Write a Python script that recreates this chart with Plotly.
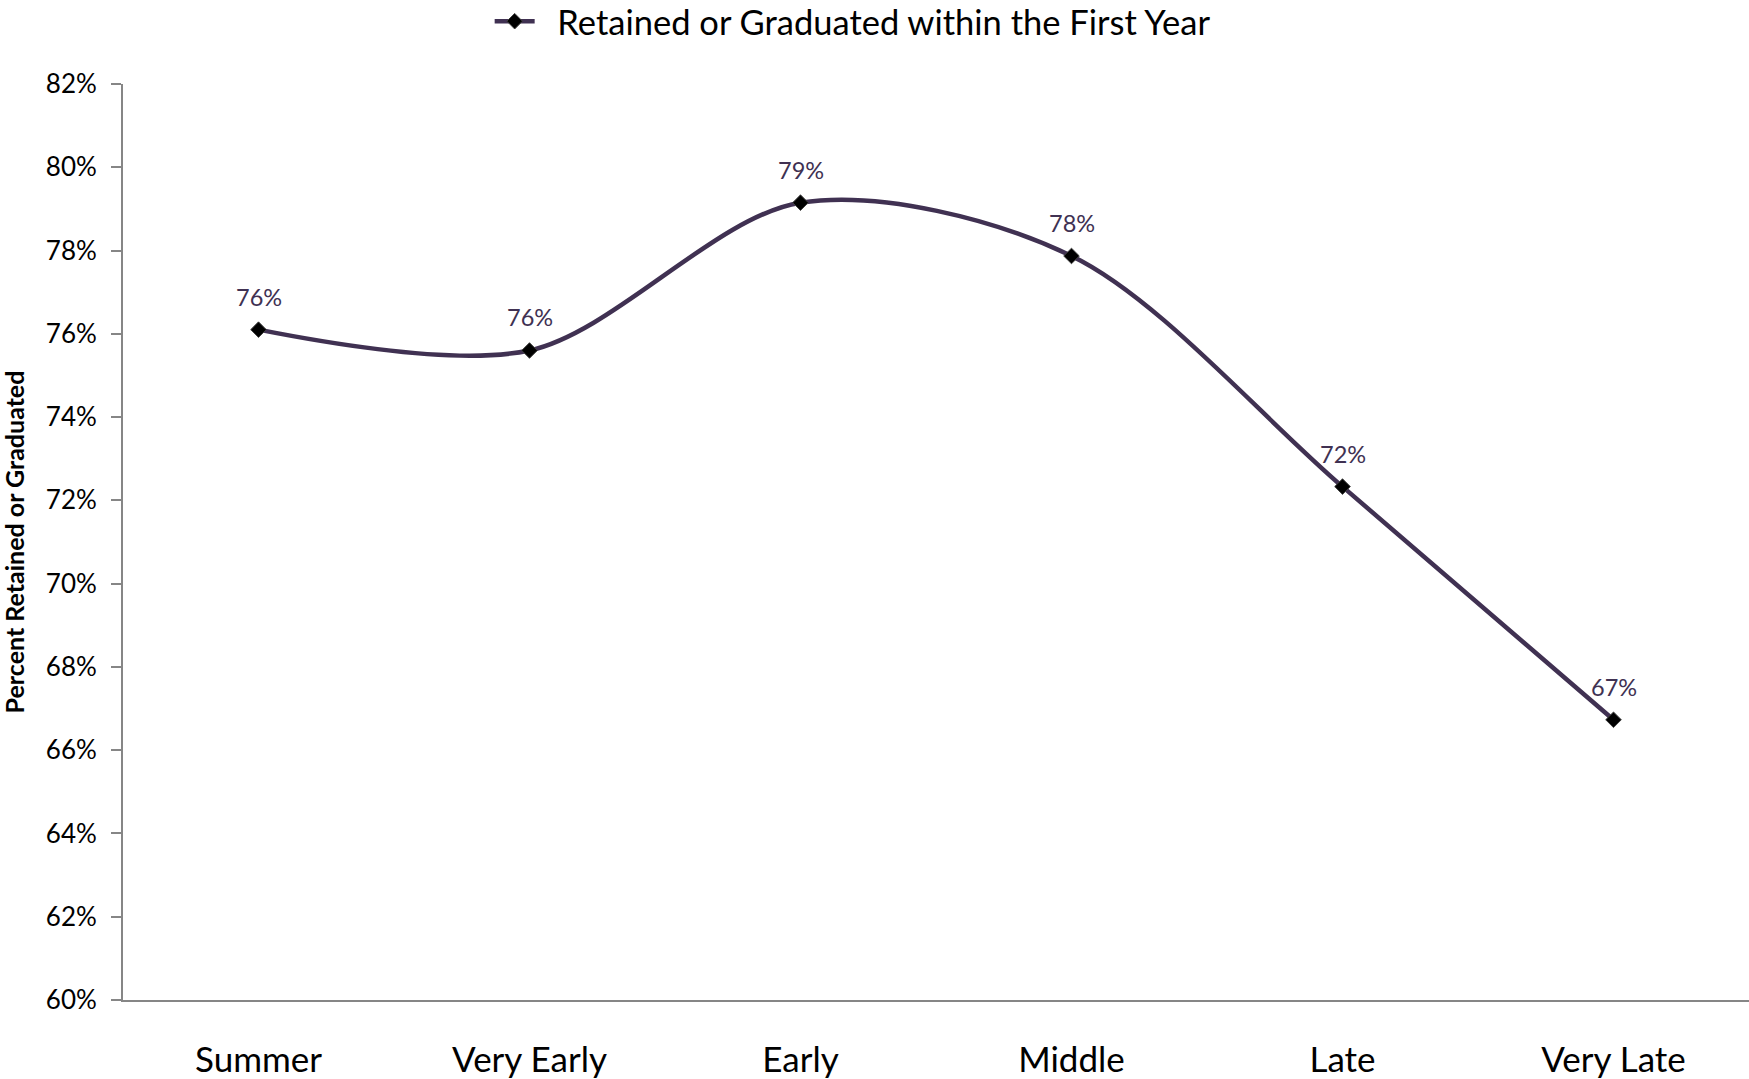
import plotly.graph_objects as go

categories = ["Summer", "Very Early", "Early", "Middle", "Late", "Very Late"]
retained = [76.1, 75.6, 79.15, 77.87, 72.33, 66.73]
label_text = ["76%", "76%", "79%", "78%", "72%", "67%"]
y_ticks = [60, 62, 64, 66, 68, 70, 72, 74, 76, 78, 80, 82]
y_tick_labels = [f"{v}%" for v in y_ticks]
series_name = "Retained or Graduated within the First Year"

FONT = "Lato, Carlito, Open Sans, sans-serif"
LINE = "#403152"

fig = go.Figure()
fig.add_trace(go.Scatter(
    x=list(range(len(categories))),
    y=retained,
    mode="lines+markers",
    name="\u00a0\u00a0" + series_name,
    line=dict(color=LINE, width=4.5, shape="spline", smoothing=0.9),
    marker=dict(symbol="diamond", size=12, color="black",
                line=dict(color="#404040", width=1)),
    cliponaxis=False,
))

for i, (v, t) in enumerate(zip(retained, label_text)):
    fig.add_annotation(x=i, y=v, text=t, showarrow=False, yshift=33,
                       font=dict(family=FONT, size=23.5, color=LINE))

fig.add_annotation(xref="paper", yref="paper", x=-0.0668, y=0.5,
                   text="<b>Percent Retained or Graduated</b>", textangle=-90,
                   showarrow=False, xanchor="center", yanchor="middle",
                   font=dict(family=FONT, size=25, color="black"))

fig.update_layout(
    width=1749, height=1079,
    paper_bgcolor="white", plot_bgcolor="white",
    margin=dict(l=123, r=0, t=84, b=79, autoexpand=False),
    font=dict(family=FONT, color="black"),
    showlegend=True,
    legend=dict(orientation="h", x=0.2255, y=1.0685, xanchor="left", yanchor="middle",
                yref="paper", font=dict(family=FONT, size=34.5, color="black"),
                itemwidth=40, bgcolor="rgba(0,0,0,0)"),
    xaxis=dict(
        tickmode="array", tickvals=list(range(len(categories))), ticktext=categories,
        range=[-0.5, 5.5], showgrid=False, zeroline=False, automargin=False,
        showline=True, linecolor="#868686", linewidth=2,
        ticks="", tickfont=dict(family=FONT, size=35, color="black"),
        ticklabelstandoff=28,
    ),
    yaxis=dict(
        range=[60, 82], tickmode="array", tickvals=y_ticks, ticktext=y_tick_labels,
        showgrid=False, zeroline=False, showline=True, linecolor="#868686", linewidth=2,
        automargin=False,
        ticks="outside", ticklen=10, tickcolor="#868686", tickwidth=2,
        tickfont=dict(family=FONT, size=26, color="black"),
        ticklabelstandoff=9,
    ),
)

fig.write_html("out.html", config={"displayModeBar": False},
               post_script="document.body.style.margin='0';")
